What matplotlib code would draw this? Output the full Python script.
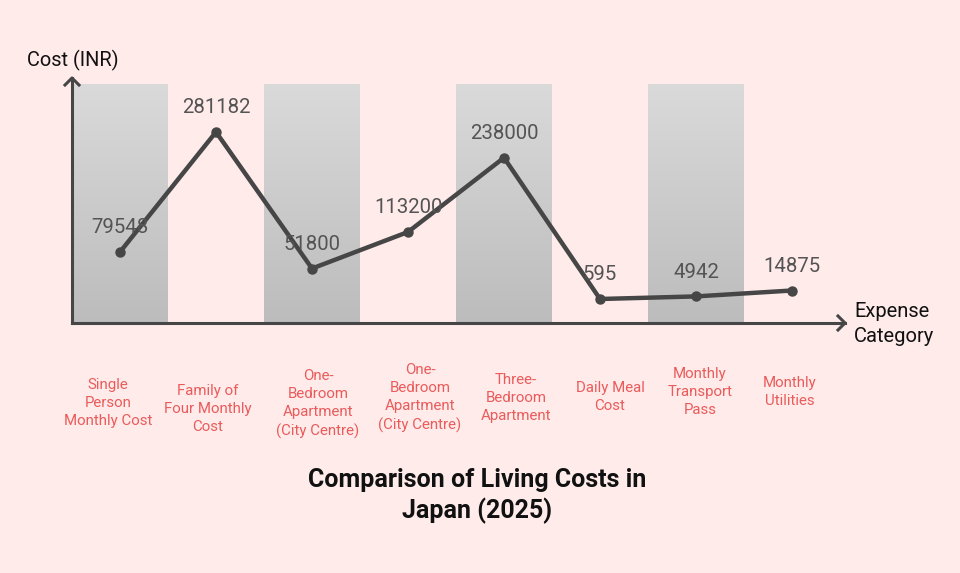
import matplotlib
matplotlib.use("Agg")
import matplotlib.pyplot as plt
import numpy as np
from matplotlib.colors import LinearSegmentedColormap

categories = [
    "Single\nPerson\nMonthly Cost",
    "Family of\nFour Monthly\nCost",
    "One-\nBedroom\nApartment\n(City Centre)",
    "One-\nBedroom\nApartment\n(City Centre)",
    "Three-\nBedroom\nApartment",
    "Daily Meal\nCost",
    "Monthly\nTransport\nPass",
    "Monthly\nUtilities",
]
values = [79548, 281182, 51800, 113200, 238000, 595, 4942, 14875]
value_labels = ["79548", "281182", "51800", "113200", "238000", "595", "4942", "14875"]

title = "Comparison of Living Costs in\nJapan (2025)"
y_title = "Cost (INR)"
x_title = "Expense\nCategory"

# layout/style
BG = "#ffebea"
LINE = "#464646"
LABEL_RED = "#ea5b5b"
label_dx_px = [-12, -8, 6, 12, 12, 10, 4, -2]
label_cy_px = [403, 409, 404, 398, 398, 397, 392, 392]

plt.rcParams["font.family"] = ["Roboto", "DejaVu Sans"]

W, H = 960, 573
fig = plt.figure(figsize=(W / 100, H / 100), dpi=100, facecolor=BG)
left, right, top, bottom = 72, 840, 84, 323
ax = fig.add_axes([left / W, 1 - bottom / H, (right - left) / W, (bottom - top) / H])
ax.set_facecolor(BG)

n = len(values)
x = np.arange(n)
ax.set_xlim(-0.5, n - 0.5)
ylo, yhi = -39725, 361800
ax.set_ylim(ylo, yhi)

cmap = LinearSegmentedColormap.from_list("g", ["#bcbcbc", "#dadada"])
grad = np.linspace(0, 1, 256).reshape(-1, 1)
for i in range(0, n, 2):
    ax.imshow(grad, extent=(i - 0.5, i + 0.5, ylo, yhi), origin="lower",
              aspect="auto", cmap=cmap, zorder=0.5, interpolation="bilinear")

ax.plot(x, values, color=LINE, lw=3.2, marker="o", ms=6.5, zorder=3,
        solid_joinstyle="round", solid_capstyle="round")
for xi, v, lab in zip(x, values, value_labels):
    ax.annotate(lab, (xi, v), xytext=(0, 17.5), textcoords="offset points",
                ha="center", va="center", fontsize=14.7, color="#545454", zorder=4)

for s in ax.spines.values():
    s.set_visible(False)
ax.set_xticks([])
ax.set_yticks([])

def fx(px):
    return px / W

def fy(py):
    return 1 - py / H

lw_ax = 2.2
fig.add_artist(plt.Line2D([fx(72), fx(72)], [fy(323), fy(78)], color=LINE, lw=lw_ax))
fig.add_artist(plt.Line2D([fx(72), fx(845)], [fy(323), fy(323)], color=LINE, lw=lw_ax))
fig.add_artist(plt.Line2D([fx(65), fx(72), fx(79)], [fy(85), fy(78), fy(85)], color=LINE, lw=lw_ax))
fig.add_artist(plt.Line2D([fx(838), fx(845), fx(838)], [fy(316), fy(323), fy(330)], color=LINE, lw=lw_ax))

fig.text(fx(27), fy(60), y_title, fontsize=14.4, color="#111111", ha="left", va="center")
fig.text(fx(854), fy(324), x_title, fontsize=14.5, color="#111111", ha="left", va="center",
         linespacing=1.4)

for i, lab in enumerate(categories):
    cx = left + (i + 0.5) * (right - left) / n + label_dx_px[i]
    fig.text(fx(cx), fy(label_cy_px[i]), lab, ha="center", va="center",
             fontsize=10.8, color=LABEL_RED, linespacing=1.38)

fig.text(fx(477), fy(496), title, ha="center", va="center", fontsize=18,
         fontweight="bold", color="#111111", linespacing=1.3)

fig.savefig("out.png", dpi=100, facecolor=BG)
